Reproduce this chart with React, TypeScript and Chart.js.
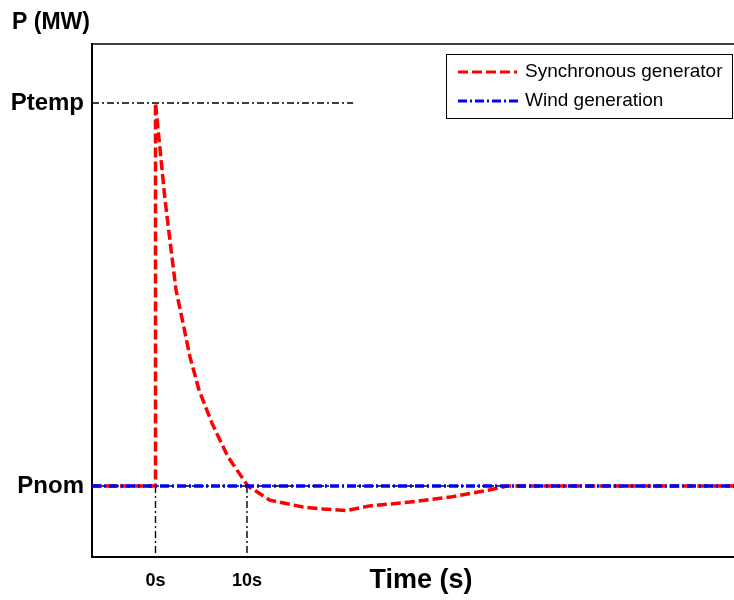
import React, { useEffect, useRef } from "react";
import { Chart, registerables } from "chart.js";

Chart.register(...registerables);

// ---- data (time in s, power normalised: Pnom = 1, Ptemp = 2) ----
const X_MIN = -6.94;
const X_MAX = 63.22;
const Y_MIN = 0.8146;
const Y_MAX = 2.154;

const P_NOM = 1;
const P_TEMP = 2;

const xTicks = [0, 10];
const yTicks = [P_NOM, P_TEMP];
const yTickLabels = ["Pnom", "Ptemp"];

const syncTime = [X_MIN, 0, 0, 1.04, 2.24, 3.0, 3.77, 4.75, 6.17, 7.92, 10.1, 12.5, 16.1, 18.3, 20.9, 23.4, 27.8, 32.2, 36.6, 38.4, X_MAX];
const syncPower = [1, 1, 2, 1.747, 1.512, 1.426, 1.337, 1.251, 1.164, 1.076, 1.0, 0.963, 0.945, 0.94, 0.936, 0.948, 0.958, 0.971, 0.99, 1.0, 1.0];

const windTime = [X_MIN, X_MAX];
const windPower = [1, 1];

const ptempRefTime = [X_MIN, 21.6];
const pnomRefTime = [X_MIN, 38.4];
const markerTimes = [0, 10];

const legendLabels = ["Synchronous generator", "Wind generation"];

const FONT = "'Liberation Sans', Arial, Helvetica, sans-serif";
const RED = "#ff0000";
const BLUE = "#0000ff";
const RED_DASH = [10, 4];
const BLUE_DASH = [9, 3, 2, 3];
const BLACK_DASH = [7, 3, 2, 3];

const pts = (xs: number[], ys: number[]) => xs.map((x, i) => ({ x, y: ys[i] }));

const overlayPlugin = {
  id: "overlay",
  afterDraw(chart: any) {
    const { ctx, chartArea } = chart;
    ctx.save();
    // top frame line
    ctx.strokeStyle = "#000";
    ctx.lineWidth = 1.5;
    ctx.setLineDash([]);
    ctx.beginPath();
    ctx.moveTo(chartArea.left, chartArea.top);
    ctx.lineTo(chartArea.right, chartArea.top);
    ctx.stroke();

    // legend box
    const bx = 446, by = 54, bw = 286, bh = 64;
    ctx.fillStyle = "#fff";
    ctx.fillRect(bx, by, bw, bh);
    ctx.lineWidth = 1;
    ctx.strokeRect(bx + 0.5, by + 0.5, bw, bh);

    // legend samples
    ctx.lineWidth = 3;
    ctx.strokeStyle = RED;
    ctx.setLineDash(RED_DASH);
    ctx.beginPath();
    ctx.moveTo(458, 72);
    ctx.lineTo(517, 72);
    ctx.stroke();
    ctx.strokeStyle = BLUE;
    ctx.setLineDash(BLUE_DASH);
    ctx.beginPath();
    ctx.moveTo(458, 101);
    ctx.lineTo(519, 101);
    ctx.stroke();
    ctx.setLineDash([]);

    ctx.fillStyle = "#000";
    ctx.textBaseline = "middle";
    ctx.textAlign = "left";
    ctx.font = `19px ${FONT}`;
    ctx.fillText(legendLabels[0], 525, 72);
    ctx.fillText(legendLabels[1], 525, 101);

    // axis titles
    ctx.font = `bold 23px ${FONT}`;
    ctx.textBaseline = "alphabetic";
    ctx.fillText("P (MW)", 12, 29);
    ctx.font = `bold 27px ${FONT}`;
    ctx.textAlign = "center";
    ctx.textBaseline = "middle";
    ctx.fillText("Time (s)", 421, 581);
    ctx.restore();
  },
};

export default function App() {
  const ref = useRef<HTMLCanvasElement>(null);
  useEffect(() => {
    if (!ref.current) return;
    const blackLine = (data: any[]) => ({
      data,
      borderColor: "#000",
      borderWidth: 1.4,
      borderDash: BLACK_DASH,
      pointRadius: 0,
      fill: false,
      order: 3,
    });
    const chart = new Chart(ref.current, {
      type: "line",
      data: {
        datasets: [
          {
            label: legendLabels[0],
            data: pts(syncTime, syncPower),
            borderColor: RED,
            borderWidth: 3.5,
            borderDash: RED_DASH,
            pointRadius: 0,
            fill: false,
            order: 2,
          },
          {
            label: legendLabels[1],
            data: pts(windTime, windPower),
            borderColor: BLUE,
            borderWidth: 3.5,
            borderDash: BLUE_DASH,
            pointRadius: 0,
            fill: false,
            order: 1,
          },
          blackLine(pts(ptempRefTime, [P_TEMP, P_TEMP])),
          blackLine(pts(pnomRefTime, [P_NOM, P_NOM])),
          ...markerTimes.map((t) => blackLine(pts([t, t], [P_NOM, Y_MIN]))),
        ] as any,
      },
      options: {
        animation: false,
        responsive: false,
        parsing: false as any,
        layout: { padding: { top: 44, left: 0, right: 0, bottom: 0 } },
        plugins: { legend: { display: false }, tooltip: { enabled: false } },
        elements: { line: { tension: 0 }, point: { radius: 0 } },
        scales: {
          x: {
            type: "linear",
            min: X_MIN,
            max: X_MAX,
            afterFit: (s: any) => {
              s.height = 43;
            },
            afterBuildTicks: (s: any) => {
              s.ticks = xTicks.map((v) => ({ value: v }));
            },
            ticks: {
              callback: (v: any) => `${v}s`,
              color: "#000",
              font: { family: FONT, size: 18, weight: "bold" },
              padding: 13,
              autoSkip: false,
              maxRotation: 0,
            },
            grid: { display: false, drawTicks: false },
            border: { display: true, color: "#000", width: 2 },
          },
          y: {
            type: "linear",
            min: Y_MIN,
            max: Y_MAX,
            afterFit: (s: any) => {
              s.width = 92;
            },
            afterBuildTicks: (s: any) => {
              s.ticks = yTicks.map((v) => ({ value: v }));
            },
            ticks: {
              callback: (v: any) => yTickLabels[yTicks.indexOf(Number(v))] ?? "",
              color: "#000",
              font: { family: FONT, size: 24, weight: "bold" },
              padding: 8,
              autoSkip: false,
            },
            grid: { display: false, drawTicks: false },
            border: { display: true, color: "#000", width: 2 },
          },
        },
      } as any,
      plugins: [overlayPlugin],
    });
    return () => chart.destroy();
  }, []);
  return (
    <div style={{ position: "absolute", left: 0, top: 0, width: 734, height: 600, background: "#fff" }}>
      <canvas ref={ref} width={734} height={600} />
    </div>
  );
}
